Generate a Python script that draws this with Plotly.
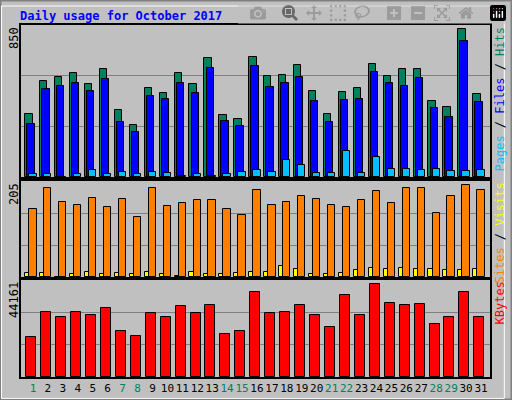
import plotly.graph_objects as go
from plotly.subplots import make_subplots

days = list(range(1, 32))
weekend_days = [1, 7, 8, 14, 15, 21, 22, 28, 29]

hits = [352, 537, 559, 581, 520, 604, 375, 291, 497, 470, 581, 520, 665, 347, 324, 671,
        565, 570, 626, 481, 352, 475, 497, 632, 565, 604, 604, 425, 391, 828, 464]
files = [296, 492, 509, 526, 481, 548, 308, 252, 453, 436, 526, 470, 609, 313, 285, 621,
         503, 526, 559, 425, 308, 431, 436, 587, 526, 509, 554, 386, 336, 760, 419]
pages = [17, 17, 0, 17, 39, 17, 28, 17, 28, 22, 3, 17, 3, 17, 28, 39,
         28, 95, 67, 22, 22, 145, 22, 112, 45, 45, 39, 45, 33, 33, 39]
visits = [146, 189, 161, 154, 169, 150, 167, 129, 191, 152, 159, 165, 165, 146, 133, 186,
          154, 161, 174, 167, 154, 150, 165, 184, 157, 189, 189, 137, 172, 197, 186]
sites = [9, 9, 0, 6, 11, 6, 9, 7, 11, 6, 3, 11, 6, 7, 9, 11,
         11, 24, 18, 7, 7, 9, 14, 20, 18, 20, 18, 18, 14, 14, 18]
kbytes = [18025, 29741, 27488, 29741, 28389, 31544, 20729, 18476, 29290, 27488, 32445,
          29290, 32896, 19377, 20729, 38754, 29290, 29741, 32896, 28389, 22982, 37402,
          28389, 42358, 33797, 32896, 33346, 24334, 27488, 38754, 27488]

max_hits = 850
max_visits = 205
max_kbytes = 44161

FONT = "DejaVu Sans Mono"
line = dict(color="black", width=1)

fig = make_subplots(rows=3, cols=1, shared_xaxes=True)

def bars(y, color, offset, width, row):
    fig.add_trace(go.Bar(x=days, y=y, offset=offset, width=width,
                         marker=dict(color=color, line=line)), row=row, col=1)

bars(hits, "#00805C", -0.52, 0.49, 1)
bars(files, "#0000FF", -0.38, 0.49, 1)
bars(pages, "#00C0FF", -0.25, 0.49, 1)
bars(sites, "#FFFF00", -0.52, 0.49, 2)
bars(visits, "#FF8000", -0.25, 0.49, 2)
bars(kbytes, "#FF0000", -0.45, 0.67, 3)

xdom = [21 / 512, 490 / 512]
ydoms = [[1 - 177 / 400, 1 - 25 / 400], [1 - 277 / 400, 1 - 181 / 400], [1 - 377 / 400, 1 - 280 / 400]]
maxes = [max_hits, max_visits, max_kbytes]

ticktext = [f'<span style="color:{"#00805C" if d in weekend_days else "black"}">{d}</span>' for d in days]

for i in range(3):
    n = "" if i == 0 else str(i + 1)
    fig.layout["xaxis" + n].update(domain=xdom, range=[0.2, 31.6], showline=True, mirror=True,
                                   linecolor="black", linewidth=2, showgrid=False,
                                   tickvals=days, ticktext=ticktext, ticks="", tickangle=0,
                                   showticklabels=(i == 2), tickfont=dict(family=FONT, size=11))
    fig.layout["yaxis" + n].update(domain=ydoms[i], range=[0, maxes[i]], showline=True, mirror=True,
                                   linecolor="black", linewidth=2, tickvals=[maxes[i] / 3, maxes[i] * 2 / 3],
                                   showticklabels=False, gridcolor="#808080", gridwidth=1, zeroline=False)
    fig.add_annotation(text=str(maxes[i]), xref="paper", yref="paper", x=14 / 512, y=ydoms[i][1],
                       xanchor="center", yanchor="top", textangle=-90, showarrow=False,
                       font=dict(family=FONT, size=12, color="black"))

right_labels = [
    '<span style="color:#00C0FF">Pages</span> / <span style="color:#0000FF">Files</span> / <span style="color:#00805C">Hits</span>',
    '<span style="color:#FF8000">Sites</span> / <span style="color:#FFFF00">Visits</span>',
    '<span style="color:#FF0000">KBytes</span>',
]
for i in range(3):
    fig.add_annotation(text=right_labels[i], xref="paper", yref="paper", x=499 / 512,
                       y=ydoms[i][1], xanchor="center", yanchor="top", textangle=-90,
                       showarrow=False, font=dict(family=FONT, size=12, color="black"))

fig.add_annotation(text="<b>Daily usage for October 2017</b>", xref="paper", yref="paper",
                   x=18 / 512, y=1 - 7 / 400, xanchor="left", yanchor="top", showarrow=False,
                   font=dict(family=FONT, size=12, color="#0000FF"))

# window frame
fig.add_shape(type="rect", xref="paper", yref="paper", x0=0, y0=0, x1=1, y1=1,
              line=dict(color="#808080", width=3))
fig.add_shape(type="rect", xref="paper", yref="paper", x0=0.003, y0=0.004, x1=0.985, y1=0.985,
              line=dict(color="white", width=1))

fig.update_layout(width=512, height=400, margin=dict(l=0, r=0, t=0, b=0),
                  paper_bgcolor="#C0C0C0", plot_bgcolor="#C0C0C0",
                  showlegend=False, barmode="overlay", bargap=0)

fig.write_html("out.html", post_script="document.body.style.margin='0';")
